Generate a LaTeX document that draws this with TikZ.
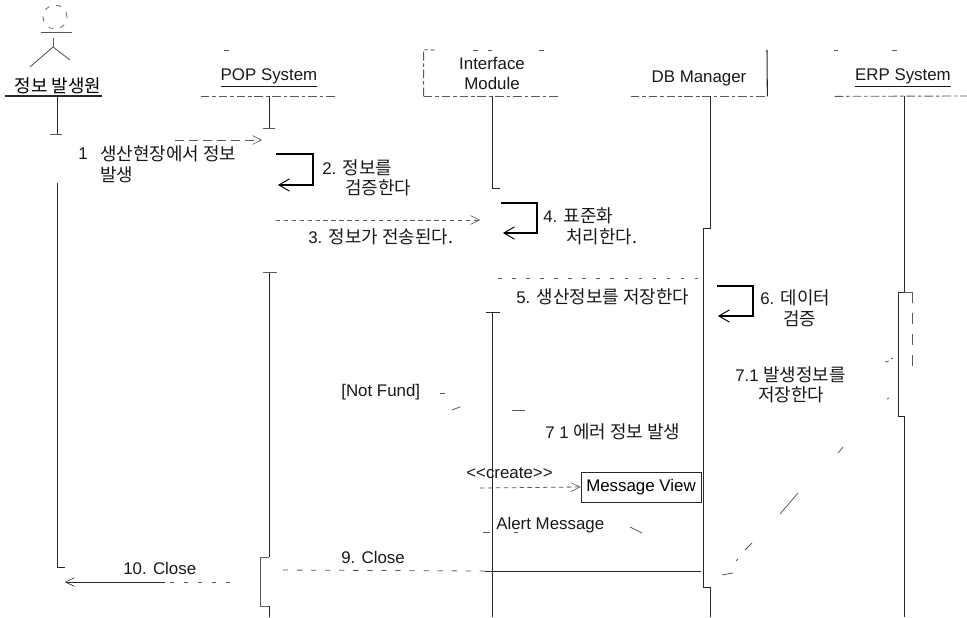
\documentclass[tikz,border=0pt]{standalone}
\usepackage{fontspec}
\setmainfont{Liberation Sans}
\newfontfamily\krfont{Noto Sans CJK KR}
\usetikzlibrary{arrows.meta, positioning, calc}
\definecolor{cInk}{RGB}{25,25,25}
\definecolor{cLine}{RGB}{40,40,40}
\definecolor{cFaint}{RGB}{90,90,90}
\newcommand{\kr}[1]{{\krfont\fontsize{10.2}{11.4}\selectfont #1}}
\tikzset{
  %% header boxes (no outline of their own, the edges are drawn apart)
  header/.style={rectangle, minimum width=2.72cm, minimum height=0.72cm,
                 inner sep=0pt, align=center, text=cInk},
  headedge/.style={draw=cFaint, line width=0.5pt, dash pattern=on 5pt off 1.6pt on 2pt off 1.6pt},
  %% message labels
  msgtext/.style={inner sep=0pt, align=left, anchor=west, text=cInk, yshift=-1pt},
  %% lifeline
  lifeline/.style={draw=cLine, line width=0.55pt},
  %% self call arrows
  selfarrow/.style={draw=black, line width=0.65pt,
                    -{Straight Barb[length=6pt, width=7pt, line width=0.55pt]}},
  %% message arrows
  msgarrow/.style={draw=cFaint, line width=0.45pt, dash pattern=on 2.5pt off 2pt,
                   -{Straight Barb[length=5pt, width=5pt, line width=0.35pt]}},
  solidmsg/.style={draw=cLine, line width=0.55pt},
  scrap/.style={draw=cFaint, line width=0.45pt},
  actorline/.style={draw=cFaint, line width=0.5pt},
}

\begin{document}
\begin{tikzpicture}[x=0.02cm, y=-0.02cm, font=\fontsize{9.6}{11.4}\selectfont]
\useasboundingbox (0,0) rectangle (967,618);

%% ============================================================
%%  LIFELINE POSITIONS
%% ============================================================
\def\Ax{57}
\def\Px{269}
\def\Ix{492}
\def\Dx{710}
\def\Ex{904}
\def\yend{617}

%% ----- Actor figure -----
\node[circle, draw=cFaint, line width=0.4pt, dash pattern=on 3pt off 4pt, minimum size=0.48cm, inner sep=0pt] (Head) at (55,17) {};
\coordinate (Hip) at (53,47);
\coordinate (ArmL) at (41,32);
\coordinate (ArmR) at (72,32);
\coordinate (LegL) at (30,67);
\coordinate (LegR) at (70,60);
\draw[actorline] (ArmL) -- (ArmR);
\draw[actorline] ($(Hip)+(0,-9)$) -- (Hip);
\draw[actorline] (LegL) -- (Hip) -- (LegR);

%% ----- Headers -----
\node[inner sep=0pt, minimum height=0.4cm] (Src) at (58,86) {\kr{정보 발생원}};
\node[header] (POP) at (\Px,78) {\underline{POP System}};
\node[header, minimum height=0.92cm] (IM)  at (\Ix,73) {\raisebox{-2pt}{Interface}\\\raisebox{-2pt}{Module}};
\node[header] (DB)  at (699,78) {DB Manager};
\node[header] (ERP) at (903,78) {\underline{ERP System}};

\coordinate (SrcL) at (5,96);
\coordinate (SrcR) at (102,96);
\coordinate (ERPr) at (967,96);
\coordinate (IMt) at (435,50);
\coordinate (DBt) at (767,50);
\draw[draw=cLine, line width=0.6pt] (SrcL) -- (SrcR);

\draw[headedge] (POP.south west) -- (POP.south east);
\draw[headedge] (IM.south west) -- (IM.south east);
\draw[headedge] (DB.south west) -- (DB.south east);
\draw[headedge] (ERP.south west) -- (ERPr);
\draw[headedge] (IM.south west) -- (IM.north west) -- (IMt);
\draw[draw=cLine, line width=0.6pt] (DBt) -- (DB.south east);

%% ----- Lifelines -----
\coordinate (SrcA) at (\Ax,134);
\coordinate (SrcB) at (\Ax,183);
\coordinate (SrcC) at (\Ax,567);
\coordinate (POPa) at (\Px,128);
\coordinate (POPb) at (\Px,272);
\coordinate (POPc) at (\Px,557);
\coordinate (POPd) at (\Px,606);
\coordinate (POPe) at (\Px,\yend);
\coordinate (IMa) at (\Ix,188);
\coordinate (IMb) at (\Ix,312);
\coordinate (IMc) at (\Ix,\yend);
\coordinate (DBa) at (\Dx,228);
\coordinate (DBb) at (703,228);
\coordinate (DBc) at (703,587);
\coordinate (DBd) at (\Dx,587);
\coordinate (DBe) at (\Dx,\yend);
\coordinate (ERPa) at (\Ex,292);
\coordinate (ERPb) at (\Ex,416);
\coordinate (ERPc) at (\Ex,\yend);

\draw[lifeline] (SrcL -| SrcA) -- (SrcA);
\draw[lifeline] (SrcB) -- (SrcC) -- ++(8,0);
\draw[lifeline] (POP.south) -- (POPa);
\draw[lifeline] (POPb) -- (POPc);
\draw[lifeline] (POPd) -- (POPe);
\draw[lifeline] (IM.south) -- (IMa) -- ++(8,0);
\draw[lifeline] ($(IMb)+(-6,0)$) -- ($(IMb)+(8,0)$);
\draw[lifeline] (IMb) -- (IMc);
\draw[lifeline] (DB.south -| DBa) -- (DBa) -- (DBb) -- (DBc) -- (DBd) -- (DBe);
\draw[lifeline] (ERP.south -| ERPa) -- (ERPa);
\draw[lifeline] (ERPb) -- (ERPc);

%% ----- Activation bars -----
\draw[lifeline] (ERPa) -- ++(-6,0) -- (898,416) -- (ERPb);
\draw[scrap] (ERPa) -- (912,292);
\draw[scrap, dash pattern=on 6pt off 6pt] (912,292) -- (912,375);
\draw[scrap] (POPc) -- (260,557) -- (260,606) -- (POPd);

%% ============================================================
%%  MESSAGE 1
%% ============================================================
\coordinate (M1a) at (175,140);
\coordinate (M1b) at (262,140);
\draw[msgarrow, dash pattern=on 5pt off 3pt] (M1a) -- (M1b);
\node[msgtext] (L1) at (78,152) {1};
\node[msgtext] (L1b) at (100,152) {\kr{생산현장에서 정보}};
\node[msgtext] (L1c) at (100,173) {\kr{발생}};

%% ============================================================
%%  MESSAGE 2, 4, 6 -- self calls
%% ============================================================
\coordinate (M2a) at (276,154);
\coordinate (M2b) at (278,185);
\draw[selfarrow] (M2a) -- (313,154) -- (313,185) -- (M2b);
\node[msgtext] (L2) at (322,166) {2. \kr{정보를}};
\node[msgtext] (L2b) at (345,186) {\kr{검증한다}};

\coordinate (M4a) at (501,203);
\coordinate (M4b) at (503,233);
\draw[selfarrow] (M4a) -- (537,203) -- (537,233) -- (M4b);
\node[msgtext] (L4) at (543,214) {4. \kr{표준화}};
\node[msgtext] (L4b) at (566,235) {\kr{처리한다.}};

\coordinate (M6a) at (717,286);
\coordinate (M6b) at (718,316);
\draw[selfarrow] (M6a) -- (753,286) -- (753,316) -- (M6b);
\node[msgtext] (L6) at (760,296) {6. \kr{데이터}};
\node[msgtext] (L6b) at (783,317) {\kr{검증}};

%% ============================================================
%%  MESSAGE 3, 5
%% ============================================================
\coordinate (M3a) at (276,220);
\coordinate (M3b) at (480,220);
\draw[msgarrow] (M3a) -- (M3b);
\node[msgtext] (L3) at (308,235) {3. \kr{정보가 전송된다.}};

\coordinate (M5a) at (498,278);
\coordinate (M5b) at (703,278);
\draw[scrap, dash pattern=on 2pt off 6pt] (M5a) -- (M5b);
\node[msgtext] (L5) at (516,295) {5. \kr{생산정보를 저장한다}};

%% ============================================================
%%  MESSAGE 7.1 and error branch
%% ============================================================
\node[msgtext] (L71) at (735,373) {7.1 \kr{발생정보를}};
\node[msgtext] (L71b) at (758,393) {\kr{저장한다}};
\node[msgtext] (NF) at (341,390) {[Not Fund]};
\node[msgtext] (Err) at (545,430) {7 1 \kr{에러 정보 발생}};

%% what is left of the broken lines and edges
\foreach \xa/\ya/\xb/\yb in {
  885/362/889/361, 891/358/893/358, 843/447/838/453, 798/493/780/514,
  752/543/745/550, 738/559/736/561, 733/573/722/575,
  440/393/445/393, 452/410/460/407, 512/410/525/410,
  630/527/642/533, 887/399/889/398, 483/532/490/532, 514/532/518/532,
  224/50/229/50, 473/50/478/50, 488/50/492/50, 539/50/544/50,
  834/50/838/50, 892/50/897/50, 263/128/275/128, 50/134/62/134,
  263/272/277/272} {
  \draw[scrap] (\xa,\ya) -- (\xb,\yb);
}

%% ============================================================
%%  Message View + create
%% ============================================================
\node[draw=cLine, line width=0.45pt, minimum width=2.4cm, minimum height=0.6cm,
      inner sep=0pt] (MV) at (641,487) {Message View};
\coordinate (M8a) at (480,488);
\draw[msgarrow] (M8a) -- (MV.west);
\node[msgtext] (Cr) at (466,471) {{<}{<}create{>}{>}};
\node[msgtext] (AM) at (496,523) {Alert Message};

%% ============================================================
%%  MESSAGE 9, 10
%% ============================================================
\coordinate (M9a) at (275,570);
\coordinate (M9b) at (485,571);
\coordinate (M9c) at (701,571);
\draw[solidmsg] (M9c) -- (M9b);
\draw[scrap, dash pattern=on 3pt off 5pt] (M9b) -- (M9a);
\node[msgtext] (L9) at (341,556) {9. Close};

\coordinate (M10a) at (65,582);
\coordinate (M10b) at (165,582);
\coordinate (M10c) at (230,582);
\draw[scrap, dash pattern=on 2pt off 6pt] (M10c) -- (M10b);
\draw[solidmsg, -{Straight Barb[length=5pt, width=5pt, line width=0.35pt]}] (M10b) -- (M10a);
\node[msgtext] (L10) at (123,567) {10. Close};

\end{tikzpicture}
\end{document}
